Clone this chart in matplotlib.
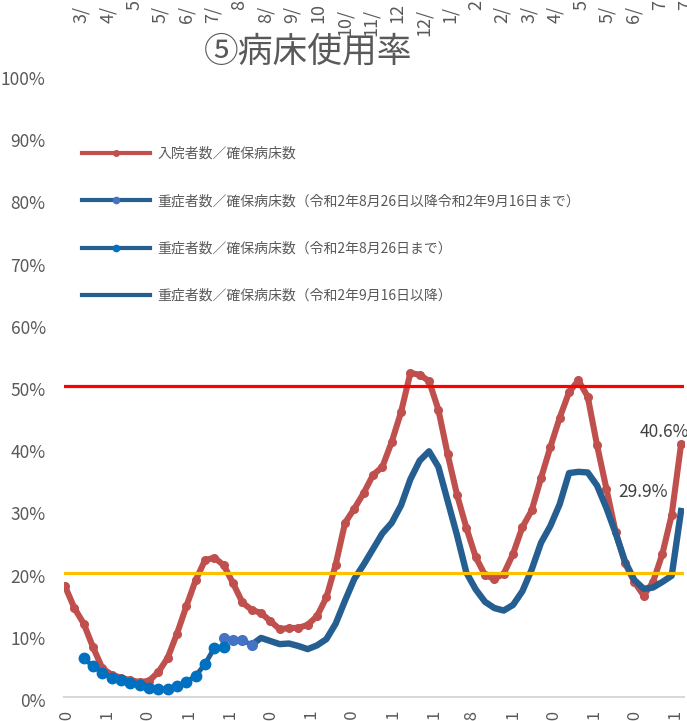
import pandas as pd
import matplotlib
matplotlib.use("Agg")
from matplotlib import pyplot as plt
from matplotlib.lines import Line2D
import matplotlib.dates as mdates
import matplotlib.transforms as mtrans

plt.rcParams['font.family'] = ['Noto Sans CJK JP', 'DejaVu Sans']

# weekly data, starting 2020/4/29
dates = pd.date_range('2020-04-29', periods=67, freq='7D')

hospitalized = [17.8, 14.3, 11.8, 8.0, 4.6, 3.6, 3.1, 2.7, 2.4, 2.6,
                4.0, 6.3, 10.2, 14.6, 18.8, 22.0, 22.4, 21.2, 18.3, 15.2,
                14.0, 13.5, 12.2, 10.9, 11.1, 11.1, 11.6, 13.0, 16.0, 21.3,
                28.0, 30.3, 32.8, 35.7, 37.0, 41.0, 45.8, 52.1, 51.8, 50.8,
                46.2, 39.0, 32.5, 27.2, 22.5, 19.6, 19.0, 19.8, 23.0, 27.3,
                30.0, 35.2, 40.2, 44.9, 49.0, 50.9, 48.3, 40.5, 33.5, 26.5,
                21.5, 18.5, 16.3, 18.5, 23.0, 29.3, 40.6]
# severe / beds, until 2020/8/26 (from 2nd week)
severe_old = [6.2, 5.0, 3.9, 3.1, 2.7, 2.3, 1.9, 1.5, 1.3, 1.3,
              1.7, 2.4, 3.4, 5.3, 7.9, 8.0]
# 2020/8/26 - 2020/9/16
severe_mid = [9.5, 9.2, 9.1, 8.4]
# from 2020/9/16
severe_new = [8.4, 9.5, 9.0, 8.5, 8.6, 8.2, 7.7, 8.3, 9.3, 11.8,
              15.5, 19.0, 21.3, 23.8, 26.3, 28.0, 30.8, 35.0, 38.0, 39.5,
              37.0, 31.5, 26.0, 20.0, 17.3, 15.3, 14.3, 13.9, 14.8, 17.0,
              20.5, 24.8, 27.5, 31.0, 36.0, 36.2, 36.1, 34.0, 30.4, 26.3,
              21.8, 18.8, 17.4, 17.6, 18.5, 19.5, 29.9]

labels = ['入院者数／確保病床数',
          '重症者数／確保病床数（令和2年8月26日以降令和2年9月16日まで）',
          '重症者数／確保病床数（令和2年8月26日まで）',
          '重症者数／確保病床数（令和2年9月16日以降）']

tick_dates = pd.to_datetime(['2020-04-30', '2020-05-31', '2020-06-30', '2020-07-31',
                             '2020-08-31', '2020-09-30', '2020-10-31', '2020-11-30',
                             '2020-12-31', '2021-01-31', '2021-02-28', '2021-03-31',
                             '2021-04-30', '2021-05-31', '2021-06-30', '2021-07-31'])

# fragments of the axis labels of the chart above (cut by the picture edge)
top_frag = ['3/', '4/', '5', '5/', '6/', '7/', '8', '8/', '9/', '10', '10/', '11/',
            '12', '12/', '1/', '2', '2/', '3/', '4/', '5', '5/', '6/', '7', '7']

red = '#C0504D'
navy = '#255E91'
grey = '#595959'

W, H = 687, 721
fig = plt.figure(figsize=(W / 100, H / 100), dpi=100)
ax = fig.add_axes([63.7 / W, 24 / H, 620 / W, 622 / H])

ax.plot(dates, hospitalized, color=red, lw=4.4, marker='o', ms=5.5, zorder=3)
ax.plot(dates[20:], severe_new, color=navy, lw=4.6, zorder=4)
ax.plot(dates[17:21], severe_mid, color=navy, lw=3.5, marker='o', ms=7,
        mfc='#4472C4', mec='#4472C4', zorder=5)
ax.plot(dates[2:18], severe_old, color=navy, lw=3.5, marker='o', ms=7.5,
        mfc='#0070C0', mec='#0070C0', zorder=5)

ax.axhline(50, color='#FF0000', lw=2.3, zorder=6)
ax.axhline(20, color='#FFC000', lw=2.3, zorder=6)

ax.annotate(f'{hospitalized[-1]:.1f}%', (dates[-1], hospitalized[-1]),
            xytext=(-17, 12), textcoords='offset pixels', ha='center', va='center',
            fontsize=12.5, color='#404040', annotation_clip=False)
ax.annotate(f'{severe_new[-1]:.1f}%', (dates[-1], severe_new[-1]),
            xytext=(-38, 19), textcoords='offset pixels', ha='center', va='center',
            fontsize=12.5, color='#404040', annotation_clip=False)

ax.set_ylim(0, 100)
ax.set_xlim(dates[0] - pd.Timedelta(days=1), dates[-1] + pd.Timedelta(days=2))
ax.set_yticks(range(0, 101, 10))
ax.set_yticklabels([f'{v}%' for v in range(0, 101, 10)])
ax.set_xticks(tick_dates)
ax.xaxis.set_major_formatter(mdates.DateFormatter('%Y/%-m/%-d'))
ax.tick_params(axis='x', length=0, pad=9, labelsize=12, labelcolor=grey, rotation=90)
ax.tick_params(axis='y', length=0, pad=13, labelsize=12.5, labelcolor=grey)
for lab in ax.get_xticklabels():
    lab.set_va('top')
shift = mtrans.ScaledTranslation(0, -3 / 100, fig.dpi_scale_trans)
for lab in ax.get_yticklabels():
    lab.set_transform(lab.get_transform() + shift)
for s in ['top', 'right', 'left']:
    ax.spines[s].set_visible(False)
ax.spines['bottom'].set_color('#D9D9D9')
ax.spines['bottom'].set_linewidth(1.5)

handles = [Line2D([], [], color=red, lw=3, marker='o', ms=4, mfc=red, mec=red),
           Line2D([], [], color=navy, lw=3, marker='o', ms=4.5, mfc='#4472C4', mec='#4472C4'),
           Line2D([], [], color=navy, lw=3, marker='o', ms=4.5, mfc='#0070C0', mec='#0070C0'),
           Line2D([], [], color=navy, lw=3)]
fig.legend(handles, labels, loc='upper left', bbox_to_anchor=(82 / W, 1 - 147 / H),
           frameon=False, fontsize=10, labelcolor=grey, numpoints=1,
           handlelength=4.9, handletextpad=0.5, labelspacing=2.4,
           borderpad=0, borderaxespad=0)

fig.text(308 / W, 1 - 52 / H, '⑤病床使用率', ha='center', va='center',
         fontsize=25, color=grey)

for i, t in enumerate(top_frag):
    x = 81.5 + i * 26.3
    y_bottom = 36 if len(t) == 3 else (10 if len(t) == 1 else 23)
    fig.text(x / W, 1 - y_bottom / H, t, rotation=90, ha='center', va='bottom',
             fontsize=13, color=grey)

fig.savefig('out.png', dpi=100)
